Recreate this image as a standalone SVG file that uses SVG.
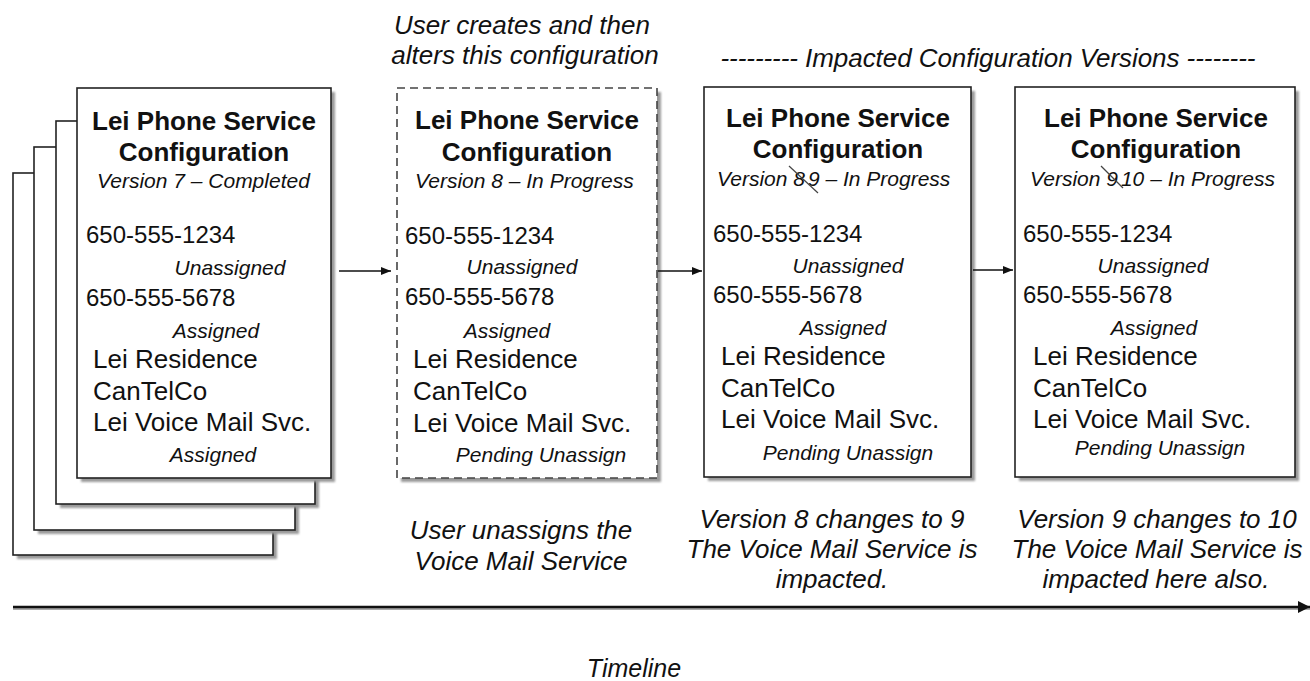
<svg xmlns="http://www.w3.org/2000/svg" width="1310" height="681" viewBox="0 0 1310 681">
<defs>
<style>
text{font-family:"Liberation Sans",Arial,sans-serif;fill:#111}
.ttl{font-size:26px;font-weight:bold;text-anchor:middle}
.ver{font-size:21px;font-style:italic}
.st{font-size:21px;font-style:italic;text-anchor:middle}
.ph{font-size:24px}
.nm{font-size:26px}
.hd{font-size:26px;font-style:italic;text-anchor:middle}
.box{fill:#fff;stroke:#222;stroke-width:1.6}
.dash{fill:#fff;stroke:#444;stroke-width:1.6;stroke-dasharray:8 5}
.sh{fill:#9a9a9a;filter:url(#blur)}
.con{stroke:#111;stroke-width:1.6;fill:none}
.strike{stroke:#444;stroke-width:1.2}
</style>
<filter id="blur" x="-5%" y="-5%" width="110%" height="110%"><feGaussianBlur stdDeviation="1.2"/></filter>
<marker id="ah" viewBox="0 0 10 8" refX="10" refY="4" markerWidth="10" markerHeight="8" markerUnits="userSpaceOnUse" orient="auto"><path d="M0,0 L10,4 L0,8 Z" fill="#111"/></marker>
<marker id="ahT" viewBox="0 0 10 10" refX="10" refY="5" markerWidth="12" markerHeight="12" markerUnits="userSpaceOnUse" orient="auto"><path d="M0,0 L10,5 L0,10 Z" fill="#111"/></marker>
</defs>
<rect width="1310" height="681" fill="#fff"/>

<!-- header texts -->
<text class="hd" x="522" y="34">User creates and then</text>
<text class="hd" x="525" y="64">alters this configuration</text>
<text class="hd" x="988" y="67" textLength="535" lengthAdjust="spacing">--------- Impacted Configuration Versions --------</text>

<!-- Version 7 stack -->
<g id="node-v7">
<rect class="sh" x="17" y="177" width="260" height="382"/>
<rect class="box" x="13" y="173" width="260" height="382"/>
<rect class="sh" x="38" y="151" width="261" height="383"/>
<rect class="box" x="34" y="147" width="261" height="383"/>
<rect class="sh" x="60" y="125" width="259" height="383"/>
<rect class="box" x="56" y="121" width="259" height="383"/>
<rect class="sh" x="81" y="92" width="254" height="390"/>
<rect class="box" x="77" y="88" width="254" height="390"/>
<text class="ttl" x="204" y="130">Lei Phone Service</text>
<text class="ttl" x="204" y="161">Configuration</text>
<text class="ver" x="97" y="188">Version 7 – Completed</text>
<text class="ph" x="86" y="243">650-555-1234</text>
<text class="st" x="230" y="275">Unassigned</text>
<text class="ph" x="86" y="306">650-555-5678</text>
<text class="st" x="216" y="338">Assigned</text>
<text class="nm" x="93" y="368">Lei Residence</text>
<text class="nm" x="93" y="400">CanTelCo</text>
<text class="nm" x="93" y="431">Lei Voice Mail Svc.</text>
<text class="st" x="213" y="462">Assigned</text>
</g>

<!-- Version 8 -->
<g id="node-v8">
<rect class="sh" x="401" y="92" width="260" height="390"/>
<rect class="dash" x="397" y="88" width="260" height="390"/>
<text class="ttl" x="527" y="129">Lei Phone Service</text>
<text class="ttl" x="527" y="161">Configuration</text>
<text class="ver" x="415" y="188">Version 8 – In Progress</text>
<text class="ph" x="405" y="244">650-555-1234</text>
<text class="st" x="522" y="274">Unassigned</text>
<text class="ph" x="405" y="305">650-555-5678</text>
<text class="st" x="507" y="338">Assigned</text>
<text class="nm" x="413" y="368">Lei Residence</text>
<text class="nm" x="413" y="400">CanTelCo</text>
<text class="nm" x="413" y="432">Lei Voice Mail Svc.</text>
<text class="st" x="541" y="462">Pending Unassign</text>
</g>

<!-- Version 8/9 -->
<g id="node-v9">
<rect class="sh" x="708" y="91" width="267" height="390"/>
<rect class="box" x="704" y="87" width="267" height="390"/>
<text class="ttl" x="838" y="127">Lei Phone Service</text>
<text class="ttl" x="838" y="158">Configuration</text>
<text class="ver" x="717" y="186">Version 8<tspan dx="3">9</tspan> – In Progress</text>
<line class="strike" x1="789" y1="166" x2="818" y2="193"/>
<text class="ph" x="713" y="242">650-555-1234</text>
<text class="st" x="848" y="273">Unassigned</text>
<text class="ph" x="713" y="303">650-555-5678</text>
<text class="st" x="843" y="335">Assigned</text>
<text class="nm" x="721" y="365">Lei Residence</text>
<text class="nm" x="721" y="397">CanTelCo</text>
<text class="nm" x="721" y="428">Lei Voice Mail Svc.</text>
<text class="st" x="848" y="460">Pending Unassign</text>
</g>

<!-- Version 9/10 -->
<g id="node-v10">
<rect class="sh" x="1019" y="91" width="280" height="390"/>
<rect class="box" x="1015" y="87" width="280" height="390"/>
<text class="ttl" x="1156" y="127">Lei Phone Service</text>
<text class="ttl" x="1156" y="158">Configuration</text>
<text class="ver" x="1030" y="186">Version 9<tspan dx="3">10</tspan> – In Progress</text>
<line class="strike" x1="1101" y1="166" x2="1123" y2="188"/>
<text class="ph" x="1023" y="242">650-555-1234</text>
<text class="st" x="1153" y="273">Unassigned</text>
<text class="ph" x="1023" y="303">650-555-5678</text>
<text class="st" x="1154" y="335">Assigned</text>
<text class="nm" x="1033" y="365">Lei Residence</text>
<text class="nm" x="1033" y="397">CanTelCo</text>
<text class="nm" x="1033" y="428">Lei Voice Mail Svc.</text>
<text class="st" x="1160" y="455">Pending Unassign</text>
</g>

<!-- connectors -->
<g id="connectors">
<line class="con" x1="339" y1="271" x2="391" y2="271" marker-end="url(#ah)"/>
<line class="con" x1="658" y1="271" x2="702" y2="271" marker-end="url(#ah)"/>
<line class="con" x1="973" y1="270" x2="1013" y2="270" marker-end="url(#ah)"/>
<line x1="13" y1="608" x2="1310" y2="608" stroke="#aaa" stroke-width="4"/>
<line x1="13" y1="607" x2="1310" y2="607" stroke="#111" stroke-width="2.6" marker-end="url(#ahT)"/>
</g>

<!-- bottom captions -->
<text class="hd" x="521" y="539">User unassigns the</text>
<text class="hd" x="521" y="570">Voice Mail Service</text>
<text class="hd" x="832" y="528">Version 8 changes to 9</text>
<text class="hd" x="832" y="558">The Voice Mail Service is</text>
<text class="hd" x="832" y="588">impacted.</text>
<text class="hd" x="1157" y="528">Version 9 changes to 10</text>
<text class="hd" x="1157" y="558">The Voice Mail Service is</text>
<text class="hd" x="1156" y="588">impacted here also.</text>
<text class="hd" x="634" y="677" style="font-size:25px">Timeline</text>
</svg>
